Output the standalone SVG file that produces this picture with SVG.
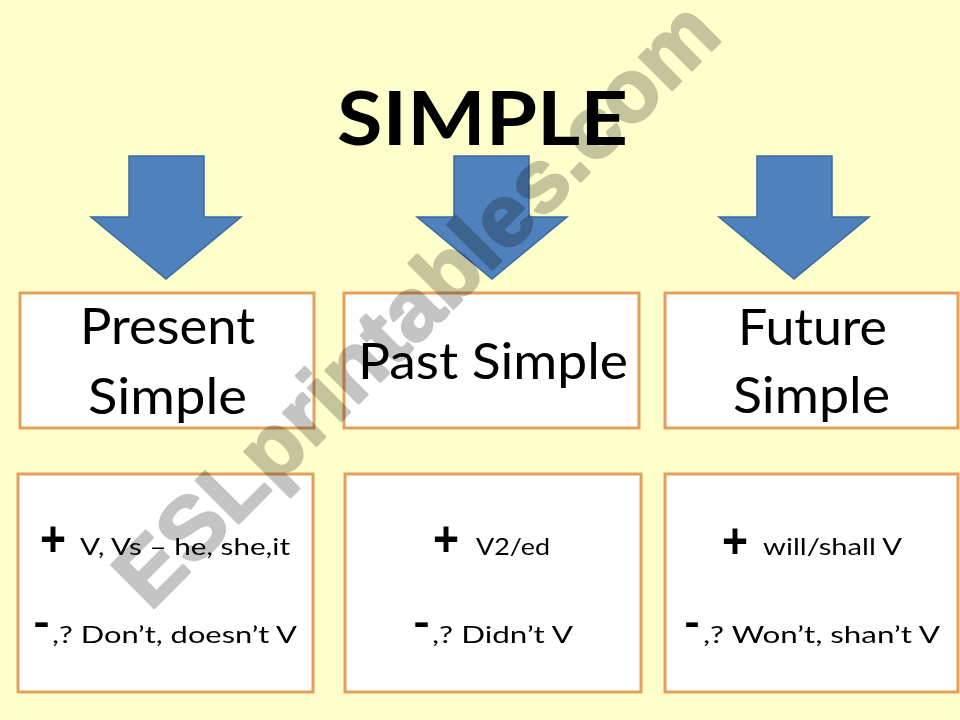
<svg xmlns="http://www.w3.org/2000/svg" width="960" height="720" viewBox="0 0 960 720">
<style>
.box{fill:#ffffff;stroke:#E3A05C;stroke-width:3}
.arrow{fill:#4F81BD;stroke:#3C6A9E;stroke-width:1.5;stroke-linejoin:miter}
.t{font-family:Lato,"Open Sans","Liberation Sans",sans-serif;fill:#000}
.head{font-size:51px}
.small{font-size:23px}
.sym{font-family:"Liberation Sans",Arial,sans-serif;fill:#000}
.wm{font-family:"Liberation Sans",Arial,sans-serif;font-weight:bold;font-size:88px;fill:#C4C4C4;stroke:#C4C4C4;stroke-width:2.5;stroke-linejoin:round;mix-blend-mode:multiply}
</style>
<rect x="0" y="0" width="960" height="720" fill="#FFFFCC"/>
<g id="title">
<text class="t" x="482.5" y="145" text-anchor="middle" font-size="74" font-weight="bold" textLength="291" lengthAdjust="spacingAndGlyphs">SIMPLE</text>
</g>
<g id="connectors">
<polygon class="arrow" points="129,156 204,156 204,217 241,217 166,279 91,217 129,217"/>
<polygon class="arrow" points="454,156 529,156 529,217 567,217 492,279 417,217 454,217"/>
<polygon class="arrow" points="757,156 832,156 832,217 869,217 794,279 719,217 757,217"/>
</g>
<g id="present-simple">
<rect class="box" x="20" y="293" width="294" height="135"/>
<text class="t head" x="80" y="344" textLength="175" lengthAdjust="spacingAndGlyphs">Present</text>
<text class="t head" x="88" y="414" textLength="159" lengthAdjust="spacingAndGlyphs">Simple</text>
</g>
<g id="past-simple">
<rect class="box" x="344" y="293" width="295" height="135"/>
<text class="t head" x="358" y="379" textLength="270" lengthAdjust="spacingAndGlyphs">Past Simple</text>
</g>
<g id="future-simple">
<rect class="box" x="665" y="293" width="293" height="135"/>
<text class="t head" x="738" y="345" textLength="149" lengthAdjust="spacingAndGlyphs">Future</text>
<text class="t head" x="733" y="413" textLength="157" lengthAdjust="spacingAndGlyphs">Simple</text>
</g>
<g id="present-rules">
<rect class="box" x="18" y="474" width="295" height="218"/>
<text class="sym" x="40" y="556" font-size="50" font-weight="bold" textLength="26" lengthAdjust="spacingAndGlyphs">+</text>
<text class="t small" x="80" y="555" textLength="210" lengthAdjust="spacingAndGlyphs">V, Vs – he, she,it</text>
<text class="sym" x="33" y="640" font-size="60" textLength="17" lengthAdjust="spacingAndGlyphs">-</text>
<text class="t small" x="52" y="643" textLength="245" lengthAdjust="spacingAndGlyphs">,? Don’t, doesn’t V</text>
</g>
<g id="past-rules">
<rect class="box" x="345" y="474" width="296" height="218"/>
<text class="sym" x="433" y="556" font-size="50" font-weight="bold" textLength="26" lengthAdjust="spacingAndGlyphs">+</text>
<text class="t small" x="476" y="555" textLength="74" lengthAdjust="spacingAndGlyphs">V2/ed</text>
<text class="sym" x="413" y="640" font-size="60" textLength="17" lengthAdjust="spacingAndGlyphs">-</text>
<text class="t small" x="432" y="643" textLength="141" lengthAdjust="spacingAndGlyphs">,? Didn’t V</text>
</g>
<g id="future-rules">
<rect class="box" x="665" y="474" width="293" height="218"/>
<text class="sym" x="722" y="558" font-size="50" font-weight="bold" textLength="26" lengthAdjust="spacingAndGlyphs">+</text>
<text class="t small" x="763" y="555" textLength="139" lengthAdjust="spacingAndGlyphs">will/shall V</text>
<text class="sym" x="684" y="640" font-size="60" textLength="16" lengthAdjust="spacingAndGlyphs">-</text>
<text class="t small" x="703" y="643" textLength="237" lengthAdjust="spacingAndGlyphs">,? Won’t, shan’t V</text>
</g>
<g id="watermark">
<text class="wm" transform="translate(150,612) rotate(-45)" x="0" y="0" textLength="812" lengthAdjust="spacingAndGlyphs">ESLprintables.com</text>
</g>
</svg>
